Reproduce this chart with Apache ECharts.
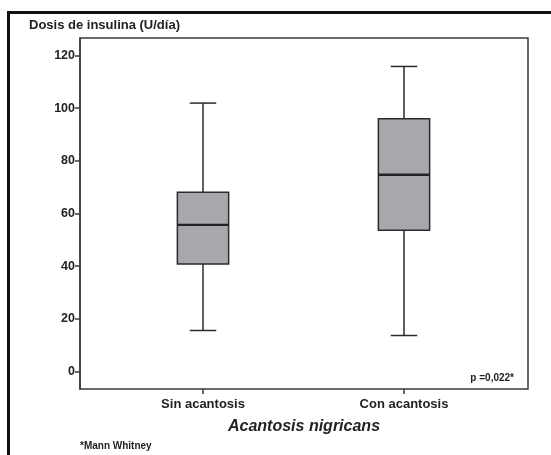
<!DOCTYPE html>
<html>
<head>
<meta charset="utf-8">
<script src="https://cdn.jsdelivr.net/npm/echarts@6/dist/echarts.min.js"></script>
<style>
  html, body { margin: 0; padding: 0; background: #fff; }
  #chart { width: 551px; height: 455px; }
</style>
</head>
<body>
<div id="chart"></div>
<script>
// ---- data ----
const categories = ['Sin acantosis', 'Con acantosis'];
const whiskerLow = [15.6, 13.7];
const q1 = [40.8, 53.6];
const median = [55.7, 74.7];
const q3 = [68.1, 96.0];
const whiskerHigh = [101.9, 115.8];
const yTicks = [0, 20, 40, 60, 80, 100, 120];
const yTitle = 'Dosis de insulina (U/día)';
const xTitle = 'Acantosis nigricans';
const note = '*Mann Whitney';
const pText = 'p =0,022*';

const FONT = "'Liberation Sans', Arial, Helvetica, sans-serif";
const AX = '#3a3a3a';
const yMin = -6.6, yMax = 126.6;

const boxData = categories.map((c, i) => [i, whiskerLow[i], q1[i], median[i], q3[i], whiskerHigh[i]]);

const chart = echarts.init(document.getElementById('chart'), null, { renderer: 'canvas' });

chart.setOption({
  animation: false,
  backgroundColor: '#fff',
  grid: [
    { left: 80, right: 23, top: 38, bottom: 66, show: true, borderColor: AX, borderWidth: 1.5, backgroundColor: 'transparent' },
    { left: 102.5, right: 46.5, top: 38, bottom: 66 }
  ],
  xAxis: [
    { gridIndex: 0, type: 'value', show: false, min: 0, max: 1 },
    {
      gridIndex: 1, type: 'category', data: categories, position: 'bottom',
      axisLine: { show: false, onZero: false },
      axisTick: { show: true, alignWithLabel: true, length: 5, lineStyle: { color: AX, width: 1.5 } },
      axisLabel: { fontFamily: FONT, fontSize: 13, fontWeight: 'bold', color: '#222', margin: 9 },
      splitLine: { show: false }
    }
  ],
  yAxis: [
    {
      gridIndex: 0, type: 'value', min: yMin, max: yMax,
      axisLine: { show: true, onZero: false, lineStyle: { color: AX, width: 1.5 } },
      axisTick: { show: true, length: 5, customValues: yTicks, lineStyle: { color: AX, width: 1.5 } },
      axisLabel: { customValues: yTicks, fontFamily: FONT, fontSize: 12.5, fontWeight: 'bold', color: '#222', margin: 5 },
      splitLine: { show: false }
    },
    { gridIndex: 1, type: 'value', min: yMin, max: yMax, show: false }
  ],
  series: [{
    type: 'custom',
    xAxisIndex: 1, yAxisIndex: 1,
    data: boxData,
    encode: { x: 0, y: [1, 2, 3, 4, 5] },
    renderItem: function (params, api) {
      const xi = api.value(0);
      const pLo = api.coord([xi, api.value(1)]);
      const pQ1 = api.coord([xi, api.value(2)]);
      const pMed = api.coord([xi, api.value(3)]);
      const pQ3 = api.coord([xi, api.value(4)]);
      const pHi = api.coord([xi, api.value(5)]);
      const band = api.size([1, 0])[0];
      const bw = band * 0.255;
      const cw = band * 0.066;
      const cx = pMed[0];
      const stroke = { stroke: '#2b2b2b', lineWidth: 1.5, fill: null };
      return {
        type: 'group',
        children: [
          { type: 'line', shape: { x1: cx, y1: pHi[1], x2: cx, y2: pQ3[1] }, style: stroke },
          { type: 'line', shape: { x1: cx, y1: pQ1[1], x2: cx, y2: pLo[1] }, style: stroke },
          { type: 'rect', shape: { x: cx - bw / 2, y: pQ3[1], width: bw, height: pQ1[1] - pQ3[1] },
            style: { fill: '#a7a8ac', stroke: '#2b2b2b', lineWidth: 1.5 } },
          { type: 'line', shape: { x1: cx - bw / 2, y1: pMed[1], x2: cx + bw / 2, y2: pMed[1] },
            style: { stroke: '#222', lineWidth: 2.4 } },
          { type: 'line', shape: { x1: cx - cw, y1: pHi[1], x2: cx + cw, y2: pHi[1] }, style: stroke },
          { type: 'line', shape: { x1: cx - cw, y1: pLo[1], x2: cx + cw, y2: pLo[1] }, style: stroke }
        ]
      };
    }
  }],
  graphic: [
    { type: 'polyline', shape: { points: [[8.5, 455], [8.5, 12.5], [551, 12.5]] },
      style: { stroke: '#111', lineWidth: 3, fill: null } },
    { type: 'text', x: 29, y: 25, style: { text: yTitle, font: "bold 13px " + FONT, fill: '#222', verticalAlign: 'middle' } },
    { type: 'text', x: 304, y: 427, style: { text: xTitle, font: "italic bold 16px " + FONT, fill: '#222', align: 'center', verticalAlign: 'middle' } },
    { type: 'text', x: 80, y: 446, style: { text: note, font: "bold 10px " + FONT, fill: '#222', verticalAlign: 'middle' } },
    { type: 'text', x: 514, y: 378, style: { text: pText, font: "bold 10px " + FONT, fill: '#222', align: 'right', verticalAlign: 'middle' } }
  ]
});
</script>
</body>
</html>
